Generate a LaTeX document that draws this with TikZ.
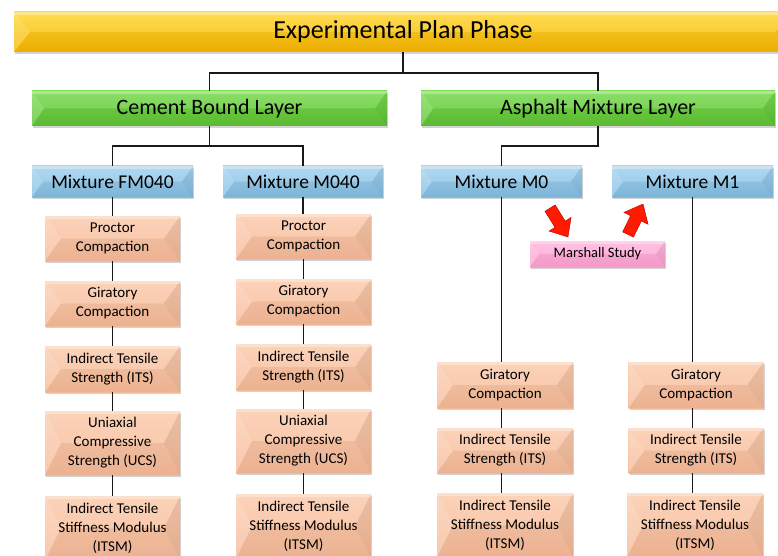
\documentclass[tikz,border=0pt]{standalone}
\usepackage{fontspec}
\setmainfont{Carlito}
\usetikzlibrary{calc,shadows}
\definecolor{ytop}{HTML}{FFD83A}
\definecolor{ybot}{HTML}{F7B500}
\definecolor{gtop}{HTML}{7ADB52}
\definecolor{gbot}{HTML}{5EC233}
\definecolor{btop}{HTML}{A6D3EF}
\definecolor{bbot}{HTML}{82BDE2}
\definecolor{ptop}{HTML}{FCCDB0}
\definecolor{pbot}{HTML}{F6BA98}
\definecolor{ktop}{HTML}{FFB9DF}
\definecolor{kbot}{HTML}{FF9FD2}
\definecolor{arrred}{HTML}{FF1A00}
\tikzset{
  bevel/.style={path picture={
    \coordinate (pa) at (path picture bounding box.north west);
    \coordinate (pb) at (path picture bounding box.north east);
    \coordinate (pc) at (path picture bounding box.south east);
    \coordinate (pd) at (path picture bounding box.south west);
    \coordinate (pl) at ($(path picture bounding box.west)+(#1,0)$);
    \coordinate (pr) at ($(path picture bounding box.east)+(-#1,0)$);
    \fill[white,opacity=.12] (pa) -- (pb) -- (pr) -- (pl) -- cycle;
    \fill[black,opacity=.04] (pd) -- (pc) -- (pr) -- (pl) -- cycle;
    \fill[white,opacity=.22] (pa) -- (pl) -- (pd) -- cycle;
    \fill[black,opacity=.07] (pb) -- (pr) -- (pc) -- cycle;
    \fill[white,opacity=.3] (pa) rectangle ($(pb)+(0,3)$);
  }},
  boxbase/.style={draw=none, inner sep=0pt, align=center, text=black,
    drop shadow={shadow xshift=1.2pt, shadow yshift=-1.8pt, opacity=.35}},
  titlebox/.style={boxbase, top color=ytop, bottom color=ybot, bevel=16,
    font=\fontsize{26}{30}\selectfont},
  layerbox/.style={boxbase, top color=gtop, bottom color=gbot, bevel=12,
    minimum height=35pt, font=\fontsize{22}{26}\selectfont},
  mixbox/.style={boxbase, top color=btop, bottom color=bbot, bevel=11,
    minimum width=161pt, minimum height=31pt, font=\fontsize{19.5}{23}\selectfont},
  testbox/.style={boxbase, top color=ptop, bottom color=pbot, bevel=16,
    minimum width=135pt, font=\fontsize{15}{19}\selectfont},
  studybox/.style={boxbase, top color=ktop, bottom color=kbot, bevel=9,
    minimum width=135pt, minimum height=26pt, font=\fontsize{14.5}{17}\selectfont},
  conn/.style={draw=black!90, line width=1.6pt},
  blockarrow/.style={fill=arrred, draw=red!75!black, line width=0.4pt, line join=miter}
}
\begin{document}
\begin{tikzpicture}[x=1pt,y=-1pt]
\useasboundingbox (0,0) rectangle (778,556);
\begin{scope}
\clip (0,0) rectangle (778,556);
% title
\node[titlebox, minimum width=778pt, minimum height=40pt] (title) at (403,32) {Experimental Plan Phase};
% layers
\node[layerbox, minimum width=355pt] (cement) at (209.5,108.5) {Cement Bound Layer};
\node[layerbox, minimum width=354pt] (asphalt) at (598,108.5) {Asphalt Mixture Layer};
% mixtures
\node[mixbox] (fm) at (112.5,181.5) {Mixture FM040};
\node[mixbox, minimum width=160pt] (mf) at (303,181.5) {Mixture M040};
\node[mixbox] (mz) at (501.5,181.5) {Mixture M0};
\node[mixbox] (mo) at (692.5,181.5) {Mixture M1};
% FM040 column
\node[testbox, minimum height=45pt] (a1) at (112.5,238.5) {Proctor\\Compaction};
\node[testbox, minimum height=45pt] (a2) at (112.5,303.5) {Giratory\\Compaction};
\node[testbox, minimum height=46pt] (a3) at (112.5,369) {Indirect Tensile\\Strength (ITS)};
\node[testbox, minimum height=64pt] (a4) at (112.5,443) {Uniaxial\\Compressive\\Strength (UCS)};
\node[testbox, minimum height=64pt] (a5) at (112.5,528) {Indirect Tensile\\Stiffness Modulus\\(ITSM)};
% M040 column
\node[testbox, minimum height=45pt] (b1) at (303.5,236.5) {Proctor\\Compaction};
\node[testbox, minimum height=45pt] (b2) at (303.5,301.5) {Giratory\\Compaction};
\node[testbox, minimum height=46pt] (b3) at (303.5,367) {Indirect Tensile\\Strength (ITS)};
\node[testbox, minimum height=64pt] (b4) at (303.5,441) {Uniaxial\\Compressive\\Strength (UCS)};
\node[testbox, minimum height=64pt] (b5) at (303.5,526) {Indirect Tensile\\Stiffness Modulus\\(ITSM)};
% M0 column
\node[testbox, minimum width=136pt, minimum height=46pt] (c1) at (505,385) {Giratory\\Compaction};
\node[testbox, minimum width=136pt, minimum height=45pt] (c2) at (505,450.5) {Indirect Tensile\\Strength (ITS)};
\node[testbox, minimum width=136pt, minimum height=64pt] (c3) at (505,525) {Indirect Tensile\\Stiffness Modulus\\(ITSM)};
% M1 column
\node[testbox, minimum height=46pt] (d1) at (696,385) {Giratory\\Compaction};
\node[testbox, minimum height=45pt] (d2) at (696,450.5) {Indirect Tensile\\Strength (ITS)};
\node[testbox, minimum width=136pt, minimum height=64pt] (d3) at (695,525) {Indirect Tensile\\Stiffness Modulus\\(ITSM)};
% Marshall
\node[studybox] (marshall) at (597.5,254) {Marshall Study};
\end{scope}
% connectors
\draw[conn] (title.south) -- ($(title.south)+(0,21)$) -| (cement.north);
\draw[conn] (title.south) -- ($(title.south)+(0,21)$) -| (asphalt.north);
\draw[conn] (cement.south) -- ($(cement.south)+(0,20)$) -| (fm.north);
\draw[conn] (cement.south) -- ($(cement.south)+(0,20)$) -| (mf.north);
\draw[conn] (asphalt.south) -- ($(asphalt.south)+(0,20)$) -| (mz.north);
\draw[conn] (fm.south) -- (a1.north);
\draw[conn] (a1.south) -- (a2.north);
\draw[conn] (a2.south) -- (a3.north);
\draw[conn] (a3.south) -- (a4.north);
\draw[conn] (a4.south) -- (a5.north);
\draw[conn] (mf.south) -- (mf.south |- b1.north);
\draw[conn] (b1.south) -- (b2.north);
\draw[conn] (b2.south) -- (b3.north);
\draw[conn] (b3.south) -- (b4.north);
\draw[conn] (b4.south) -- (b5.north);
\draw[conn] (mz.south) -- (mz.south |- c1.north);
\draw[conn] (mz.south |- c1.south) -- (mz.south |- c2.north);
\draw[conn] (mz.south |- c2.south) -- (mz.south |- c3.north);
\draw[conn] (mo.south) -- (mo.south |- d1.north);
\draw[conn] (mo.south |- d1.south) -- (mo.south |- d2.north);
\draw[conn] (mo.south |- d2.south) -- (mo.south |- d3.north);
% red block arrows
\draw[blockarrow] (568,237) -- (571.1,217.4) -- (565.2,221.1) -- (555.15,204.9)
  -- (544.95,211.3) -- (554.98,227.4) -- (549.0,231.1) -- cycle;
\draw[blockarrow] (643,204) -- (648.08,224.31) -- (641.35,221.01) -- (633.43,237.17)
  -- (622.65,231.89) -- (630.57,215.73) -- (623.84,212.43) -- cycle;
\end{tikzpicture}
\end{document}
